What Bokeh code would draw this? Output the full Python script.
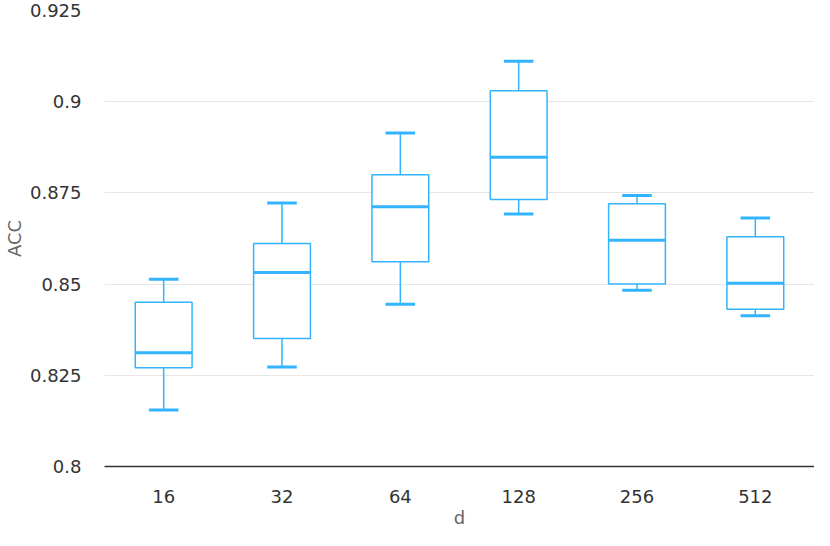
from bokeh.plotting import figure
from bokeh.models import FactorRange, Range1d, FixedTicker, ColumnDataSource
from bokeh.transform import dodge
from bokeh.embed import file_html
from bokeh.resources import INLINE

categories = ["16", "32", "64", "128", "256", "512"]
lower = [0.8155, 0.8273, 0.8445, 0.8692, 0.8483, 0.8413]
q1 = [0.8271, 0.8351, 0.8561, 0.8732, 0.8500, 0.8431]
median = [0.8312, 0.8532, 0.8712, 0.8848, 0.8620, 0.8502]
q3 = [0.8450, 0.8611, 0.8800, 0.9030, 0.8720, 0.8630]
upper = [0.8513, 0.8722, 0.8914, 0.9111, 0.8743, 0.8681]

y_ticks = [0.8, 0.825, 0.85, 0.875, 0.9, 0.925]
y_tick_labels = ["0.8", "0.825", "0.85", "0.875", "0.9", "0.925"]

COLOR = "#33b4ff"
FONT = "DejaVu Sans"

src = ColumnDataSource(dict(cat=categories, lower=lower, q1=q1, median=median, q3=q3, upper=upper))

p = figure(width=814, height=530, output_backend="svg", toolbar_location=None,
           x_range=FactorRange(*categories, range_padding=0), y_range=Range1d(0.8, 0.925),
           min_border_top=10, min_border_right=0, min_border_left=10, min_border_bottom=10)
p.outline_line_color = None
p.background_fill_color = "white"

# whisker stems
p.segment(x0="cat", y0="q3", x1="cat", y1="upper", source=src, line_color=COLOR, line_width=1.5)
p.segment(x0="cat", y0="lower", x1="cat", y1="q1", source=src, line_color=COLOR, line_width=1.5)
# boxes
p.vbar(x="cat", width=0.48, bottom="q1", top="q3", source=src, fill_color="white",
       line_color=COLOR, line_width=1.5)
# medians
p.segment(x0=dodge("cat", -0.24, range=p.x_range), x1=dodge("cat", 0.24, range=p.x_range),
          y0="median", y1="median", source=src, line_color=COLOR, line_width=3)
# caps
p.segment(x0=dodge("cat", -0.125, range=p.x_range), x1=dodge("cat", 0.125, range=p.x_range),
          y0="upper", y1="upper", source=src, line_color=COLOR, line_width=3)
p.segment(x0=dodge("cat", -0.125, range=p.x_range), x1=dodge("cat", 0.125, range=p.x_range),
          y0="lower", y1="lower", source=src, line_color=COLOR, line_width=3)

p.yaxis.ticker = FixedTicker(ticks=y_ticks)
p.yaxis.major_label_overrides = {t: l for t, l in zip(y_ticks, y_tick_labels)}
p.ygrid.grid_line_color = "#e6e6e6"
p.ygrid.grid_line_width = 1
p.xgrid.grid_line_color = None

p.yaxis.axis_line_color = None
p.yaxis.major_tick_line_color = None
p.yaxis.minor_tick_line_color = None
p.yaxis.major_tick_out = 0
p.yaxis.major_tick_in = 0
p.yaxis.major_label_standoff = 23
p.yaxis.axis_label = "ACC"
p.yaxis.axis_label_standoff = 2

p.xaxis.axis_line_color = "#333333"
p.xaxis.axis_line_width = 1.5
p.xaxis.major_tick_line_color = None
p.xaxis.major_tick_out = 0
p.xaxis.major_tick_in = 0
p.xaxis.major_label_standoff = 23
p.xaxis.axis_label = "d"
p.xaxis.axis_label_standoff = 1

for ax in (p.xaxis, p.yaxis):
    ax.major_label_text_font = FONT
    ax.major_label_text_font_size = "18px"
    ax.major_label_text_color = "#333333"
    ax.axis_label_text_font = FONT
    ax.axis_label_text_font_size = "18px"
    ax.axis_label_text_font_style = "normal"
    ax.axis_label_text_color = "#666666"

open("out.html", "w").write(file_html(p, INLINE))
